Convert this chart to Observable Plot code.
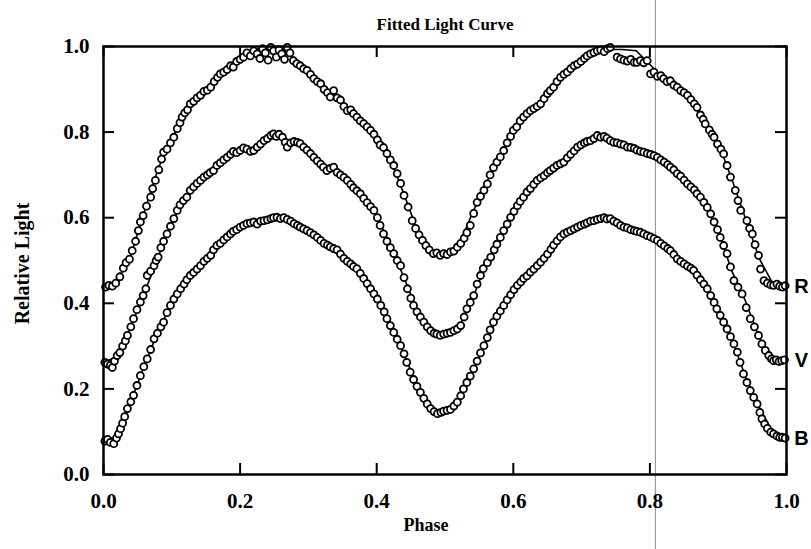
<!DOCTYPE html>
<html><head><meta charset="utf-8">
<script src="https://cdn.jsdelivr.net/npm/d3@7"></script>
<script src="https://cdn.jsdelivr.net/npm/@observablehq/plot@0.6"></script>
<style>body{margin:0;background:#fff} #chart svg{display:block}</style>
</head><body><div id="chart"></div>
<script>
const title = "Fitted Light Curve";
const xLabel = "Phase";
const yLabel = "Relative Light";
const tickValues = [0, 0.2, 0.4, 0.6, 0.8, 1.0];
const bands = ["R", "V", "B"];
const scanLineX = [0.808];

// fitted curves [phase, relative light]
const fitR = [[0,0.440],[0.02,0.452],[0.04,0.512],[0.06,0.615],[0.08,0.715],[0.10,0.785],[0.12,0.845],[0.14,0.884],[0.16,0.913],[0.18,0.945],[0.20,0.972],[0.22,0.992],[0.24,0.999],[0.26,0.997],[0.28,0.972],[0.30,0.942],[0.32,0.910],[0.34,0.882],[0.36,0.853],[0.38,0.822],[0.40,0.785],[0.42,0.735],[0.44,0.655],[0.46,0.568],[0.48,0.522],[0.50,0.514],[0.52,0.535],[0.54,0.610],[0.56,0.680],[0.58,0.740],[0.60,0.800],[0.62,0.843],[0.64,0.868],[0.66,0.905],[0.68,0.944],[0.70,0.968],[0.72,0.985],[0.74,0.993],[0.76,0.993],[0.78,0.990],[0.80,0.958],[0.82,0.925],[0.84,0.905],[0.86,0.876],[0.88,0.825],[0.90,0.775],[0.92,0.690],[0.94,0.598],[0.96,0.505],[0.98,0.446],[1.00,0.440]];
const fitV = [[0,0.262],[0.02,0.275],[0.04,0.345],[0.06,0.425],[0.08,0.508],[0.10,0.590],[0.12,0.645],[0.14,0.685],[0.16,0.710],[0.18,0.740],[0.20,0.757],[0.22,0.765],[0.24,0.788],[0.26,0.790],[0.28,0.775],[0.30,0.755],[0.32,0.724],[0.34,0.712],[0.36,0.683],[0.38,0.650],[0.40,0.605],[0.42,0.535],[0.44,0.460],[0.46,0.380],[0.48,0.334],[0.50,0.327],[0.52,0.343],[0.54,0.410],[0.56,0.490],[0.58,0.550],[0.60,0.612],[0.62,0.660],[0.64,0.693],[0.66,0.718],[0.68,0.740],[0.70,0.770],[0.72,0.785],[0.74,0.784],[0.76,0.770],[0.78,0.760],[0.80,0.748],[0.82,0.730],[0.84,0.703],[0.86,0.672],[0.88,0.632],[0.90,0.570],[0.92,0.475],[0.94,0.405],[0.96,0.320],[0.98,0.270],[1.00,0.265]];
const fitB = [[0,0.080],[0.02,0.088],[0.04,0.170],[0.06,0.255],[0.08,0.335],[0.10,0.400],[0.12,0.450],[0.14,0.485],[0.16,0.525],[0.18,0.555],[0.20,0.578],[0.22,0.590],[0.24,0.597],[0.26,0.600],[0.28,0.588],[0.30,0.568],[0.32,0.546],[0.34,0.525],[0.36,0.495],[0.38,0.458],[0.40,0.410],[0.42,0.348],[0.44,0.280],[0.46,0.205],[0.48,0.155],[0.50,0.146],[0.52,0.172],[0.54,0.238],[0.56,0.310],[0.58,0.378],[0.60,0.428],[0.62,0.465],[0.64,0.496],[0.66,0.535],[0.68,0.565],[0.70,0.583],[0.72,0.594],[0.74,0.598],[0.76,0.582],[0.78,0.569],[0.80,0.556],[0.82,0.535],[0.84,0.505],[0.86,0.482],[0.88,0.440],[0.90,0.382],[0.92,0.318],[0.94,0.228],[0.96,0.158],[0.98,0.098],[1.00,0.085]];

// observations [phase, relative light]
const obsR = [[0.003,0.438],[0.008,0.442],[0.013,0.440],[0.018,0.447],[0.024,0.462],[0.029,0.482],[0.033,0.495],[0.038,0.503],[0.042,0.523],[0.047,0.545],[0.051,0.570],[0.054,0.590],[0.058,0.605],[0.063,0.627],[0.069,0.648],[0.072,0.668],[0.076,0.687],[0.081,0.712],[0.085,0.737],[0.088,0.753],[0.093,0.760],[0.098,0.775],[0.103,0.788],[0.108,0.808],[0.112,0.822],[0.115,0.835],[0.119,0.845],[0.123,0.852],[0.127,0.866],[0.132,0.872],[0.137,0.880],[0.142,0.886],[0.147,0.895],[0.152,0.898],[0.157,0.905],[0.162,0.918],[0.167,0.928],[0.171,0.936],[0.176,0.940],[0.181,0.946],[0.186,0.955],[0.190,0.952],[0.195,0.965],[0.200,0.970],[0.205,0.975],[0.210,0.985],[0.215,0.978],[0.220,0.990],[0.225,0.983],[0.229,0.972],[0.233,0.995],[0.237,0.985],[0.241,0.968],[0.245,0.998],[0.249,0.990],[0.253,0.975],[0.257,0.992],[0.261,0.983],[0.265,0.970],[0.269,0.998],[0.273,0.985],[0.278,0.967],[0.283,0.960],[0.288,0.955],[0.293,0.948],[0.298,0.944],[0.303,0.935],[0.308,0.925],[0.313,0.918],[0.318,0.913],[0.323,0.900],[0.328,0.892],[0.332,0.882],[0.337,0.897],[0.342,0.880],[0.347,0.875],[0.352,0.860],[0.357,0.850],[0.362,0.852],[0.366,0.843],[0.371,0.835],[0.376,0.826],[0.381,0.820],[0.386,0.812],[0.391,0.804],[0.396,0.795],[0.401,0.782],[0.405,0.770],[0.410,0.764],[0.415,0.750],[0.420,0.735],[0.425,0.722],[0.430,0.703],[0.435,0.680],[0.440,0.652],[0.446,0.625],[0.452,0.593],[0.457,0.575],[0.462,0.560],[0.467,0.547],[0.472,0.535],[0.477,0.525],[0.483,0.516],[0.488,0.518],[0.493,0.512],[0.498,0.516],[0.503,0.514],[0.508,0.520],[0.513,0.522],[0.518,0.531],[0.523,0.540],[0.528,0.552],[0.532,0.565],[0.537,0.582],[0.542,0.610],[0.547,0.636],[0.552,0.650],[0.557,0.664],[0.562,0.679],[0.566,0.700],[0.571,0.717],[0.576,0.730],[0.581,0.742],[0.586,0.757],[0.591,0.775],[0.596,0.790],[0.600,0.804],[0.605,0.812],[0.610,0.826],[0.615,0.835],[0.620,0.843],[0.625,0.850],[0.630,0.855],[0.635,0.860],[0.640,0.866],[0.645,0.878],[0.650,0.890],[0.654,0.897],[0.659,0.905],[0.664,0.918],[0.669,0.928],[0.674,0.935],[0.679,0.940],[0.684,0.948],[0.689,0.955],[0.694,0.959],[0.699,0.965],[0.704,0.972],[0.708,0.978],[0.713,0.983],[0.718,0.986],[0.723,0.990],[0.728,0.992],[0.733,0.988],[0.738,0.995],[0.742,0.998],[0.752,0.975],[0.757,0.971],[0.762,0.968],[0.767,0.966],[0.772,0.970],[0.777,0.963],[0.781,0.963],[0.786,0.967],[0.791,0.962],[0.796,0.967],[0.801,0.936],[0.806,0.940],[0.811,0.930],[0.816,0.932],[0.820,0.925],[0.825,0.918],[0.830,0.920],[0.835,0.910],[0.840,0.905],[0.845,0.897],[0.850,0.892],[0.855,0.886],[0.860,0.876],[0.865,0.866],[0.869,0.858],[0.874,0.840],[0.878,0.830],[0.881,0.819],[0.887,0.805],[0.891,0.795],[0.894,0.788],[0.899,0.772],[0.904,0.760],[0.908,0.749],[0.913,0.722],[0.918,0.695],[0.925,0.664],[0.929,0.640],[0.933,0.617],[0.942,0.593],[0.946,0.575],[0.950,0.562],[0.954,0.537],[0.959,0.512],[0.962,0.480],[0.967,0.453],[0.972,0.447],[0.977,0.443],[0.981,0.442],[0.986,0.445],[0.990,0.440],[0.994,0.438],[0.998,0.441]];
const obsV = [[0.002,0.262],[0.006,0.258],[0.010,0.255],[0.013,0.250],[0.016,0.265],[0.020,0.278],[0.024,0.285],[0.028,0.300],[0.032,0.312],[0.035,0.325],[0.040,0.345],[0.044,0.364],[0.049,0.385],[0.054,0.403],[0.058,0.418],[0.062,0.434],[0.064,0.465],[0.069,0.475],[0.074,0.488],[0.077,0.500],[0.080,0.508],[0.084,0.530],[0.088,0.545],[0.093,0.562],[0.098,0.580],[0.103,0.598],[0.108,0.617],[0.112,0.630],[0.117,0.640],[0.122,0.648],[0.127,0.664],[0.132,0.672],[0.137,0.680],[0.142,0.687],[0.147,0.695],[0.152,0.700],[0.156,0.705],[0.161,0.710],[0.166,0.722],[0.171,0.728],[0.176,0.735],[0.181,0.741],[0.186,0.748],[0.190,0.755],[0.195,0.752],[0.200,0.757],[0.205,0.763],[0.210,0.760],[0.215,0.755],[0.220,0.757],[0.225,0.765],[0.230,0.772],[0.235,0.780],[0.240,0.785],[0.245,0.792],[0.249,0.796],[0.253,0.790],[0.257,0.795],[0.262,0.788],[0.266,0.776],[0.269,0.765],[0.274,0.775],[0.279,0.778],[0.284,0.776],[0.288,0.773],[0.293,0.765],[0.298,0.758],[0.303,0.750],[0.308,0.741],[0.313,0.733],[0.318,0.725],[0.322,0.718],[0.327,0.710],[0.332,0.715],[0.337,0.718],[0.342,0.706],[0.347,0.700],[0.352,0.694],[0.357,0.687],[0.362,0.678],[0.366,0.670],[0.371,0.663],[0.376,0.656],[0.381,0.645],[0.386,0.635],[0.391,0.626],[0.396,0.617],[0.401,0.600],[0.405,0.582],[0.410,0.562],[0.415,0.545],[0.420,0.530],[0.425,0.516],[0.430,0.500],[0.435,0.488],[0.440,0.460],[0.445,0.434],[0.450,0.412],[0.454,0.395],[0.459,0.380],[0.464,0.368],[0.469,0.356],[0.474,0.345],[0.479,0.336],[0.484,0.330],[0.488,0.328],[0.493,0.325],[0.498,0.328],[0.503,0.330],[0.508,0.332],[0.513,0.336],[0.518,0.340],[0.523,0.348],[0.528,0.368],[0.532,0.387],[0.537,0.402],[0.542,0.418],[0.547,0.445],[0.552,0.465],[0.556,0.481],[0.562,0.495],[0.567,0.508],[0.572,0.525],[0.576,0.538],[0.581,0.554],[0.586,0.570],[0.591,0.585],[0.596,0.601],[0.601,0.615],[0.606,0.628],[0.610,0.638],[0.615,0.648],[0.620,0.660],[0.625,0.668],[0.630,0.678],[0.635,0.687],[0.640,0.693],[0.645,0.698],[0.650,0.705],[0.654,0.710],[0.659,0.716],[0.664,0.722],[0.669,0.726],[0.674,0.730],[0.679,0.740],[0.684,0.748],[0.689,0.756],[0.694,0.765],[0.699,0.770],[0.704,0.775],[0.708,0.778],[0.713,0.780],[0.718,0.785],[0.723,0.792],[0.728,0.788],[0.733,0.790],[0.737,0.786],[0.742,0.780],[0.747,0.776],[0.752,0.775],[0.757,0.772],[0.762,0.770],[0.767,0.765],[0.772,0.764],[0.777,0.762],[0.781,0.758],[0.786,0.755],[0.791,0.753],[0.796,0.750],[0.801,0.748],[0.806,0.745],[0.811,0.741],[0.816,0.735],[0.821,0.730],[0.826,0.724],[0.830,0.718],[0.835,0.712],[0.840,0.703],[0.845,0.697],[0.850,0.688],[0.855,0.679],[0.860,0.672],[0.865,0.665],[0.869,0.656],[0.874,0.648],[0.879,0.636],[0.884,0.624],[0.889,0.609],[0.894,0.590],[0.899,0.572],[0.903,0.554],[0.908,0.535],[0.913,0.516],[0.918,0.485],[0.923,0.453],[0.929,0.438],[0.935,0.422],[0.941,0.390],[0.947,0.364],[0.953,0.345],[0.959,0.325],[0.964,0.305],[0.969,0.290],[0.974,0.278],[0.978,0.270],[0.981,0.266],[0.985,0.268],[0.989,0.264],[0.993,0.266],[0.997,0.268]];
const obsB = [[0.002,0.078],[0.006,0.082],[0.010,0.075],[0.015,0.072],[0.019,0.085],[0.022,0.095],[0.025,0.107],[0.028,0.120],[0.031,0.135],[0.035,0.154],[0.040,0.170],[0.044,0.185],[0.049,0.208],[0.054,0.231],[0.059,0.252],[0.064,0.270],[0.069,0.292],[0.074,0.317],[0.079,0.330],[0.084,0.345],[0.088,0.356],[0.093,0.378],[0.098,0.395],[0.103,0.410],[0.108,0.422],[0.113,0.434],[0.118,0.445],[0.122,0.455],[0.127,0.465],[0.132,0.472],[0.137,0.480],[0.142,0.488],[0.147,0.498],[0.152,0.505],[0.157,0.512],[0.161,0.525],[0.166,0.535],[0.171,0.540],[0.176,0.548],[0.181,0.555],[0.186,0.562],[0.190,0.568],[0.195,0.572],[0.200,0.578],[0.205,0.582],[0.210,0.586],[0.215,0.588],[0.220,0.590],[0.225,0.585],[0.230,0.592],[0.235,0.593],[0.240,0.595],[0.245,0.598],[0.249,0.600],[0.254,0.601],[0.259,0.598],[0.264,0.600],[0.269,0.596],[0.274,0.592],[0.279,0.586],[0.284,0.582],[0.288,0.578],[0.293,0.574],[0.298,0.570],[0.303,0.565],[0.308,0.560],[0.313,0.554],[0.318,0.547],[0.323,0.540],[0.328,0.536],[0.332,0.532],[0.337,0.528],[0.342,0.525],[0.347,0.515],[0.352,0.505],[0.357,0.498],[0.362,0.492],[0.366,0.486],[0.371,0.481],[0.376,0.470],[0.381,0.458],[0.386,0.446],[0.391,0.434],[0.396,0.422],[0.401,0.410],[0.406,0.395],[0.411,0.380],[0.415,0.364],[0.420,0.348],[0.425,0.332],[0.430,0.316],[0.435,0.301],[0.440,0.282],[0.444,0.262],[0.449,0.239],[0.454,0.222],[0.459,0.206],[0.464,0.192],[0.469,0.178],[0.474,0.165],[0.479,0.154],[0.484,0.147],[0.489,0.142],[0.494,0.145],[0.498,0.148],[0.503,0.150],[0.508,0.152],[0.513,0.160],[0.518,0.169],[0.523,0.184],[0.527,0.200],[0.532,0.215],[0.537,0.230],[0.542,0.247],[0.547,0.265],[0.552,0.284],[0.557,0.301],[0.562,0.320],[0.566,0.338],[0.571,0.356],[0.576,0.370],[0.581,0.382],[0.586,0.395],[0.591,0.408],[0.596,0.420],[0.601,0.432],[0.606,0.442],[0.611,0.450],[0.615,0.458],[0.620,0.464],[0.625,0.473],[0.630,0.480],[0.635,0.488],[0.640,0.496],[0.645,0.505],[0.650,0.515],[0.655,0.526],[0.659,0.536],[0.664,0.546],[0.669,0.555],[0.674,0.562],[0.679,0.566],[0.684,0.570],[0.689,0.574],[0.694,0.578],[0.699,0.582],[0.704,0.585],[0.708,0.588],[0.713,0.592],[0.718,0.593],[0.723,0.596],[0.728,0.598],[0.733,0.600],[0.737,0.597],[0.742,0.598],[0.747,0.592],[0.752,0.588],[0.757,0.582],[0.762,0.578],[0.767,0.576],[0.772,0.572],[0.777,0.570],[0.781,0.568],[0.786,0.566],[0.791,0.562],[0.796,0.558],[0.801,0.555],[0.806,0.551],[0.811,0.547],[0.816,0.540],[0.821,0.534],[0.826,0.528],[0.830,0.523],[0.835,0.514],[0.840,0.504],[0.845,0.498],[0.850,0.492],[0.855,0.487],[0.860,0.482],[0.864,0.477],[0.869,0.466],[0.874,0.455],[0.879,0.445],[0.884,0.434],[0.889,0.418],[0.894,0.402],[0.898,0.387],[0.903,0.372],[0.908,0.356],[0.913,0.340],[0.918,0.322],[0.923,0.305],[0.928,0.286],[0.932,0.262],[0.937,0.235],[0.942,0.215],[0.947,0.196],[0.952,0.180],[0.957,0.165],[0.961,0.145],[0.964,0.130],[0.968,0.118],[0.972,0.108],[0.977,0.099],[0.981,0.095],[0.986,0.090],[0.990,0.087],[0.994,0.087],[0.998,0.085]];

const fitByBand = {R: fitR, V: fitV, B: fitB};
const obsByBand = {R: obsR, V: obsV, B: obsB};
const fits = bands.flatMap(b => fitByBand[b].map(([phase, value]) => ({band: b, phase, value})));
const obs = bands.flatMap(b => obsByBand[b].map(([phase, value]) => ({band: b, phase, value})));
const ends = bands.map(b => { const a = fitByBand[b]; const [phase, value] = a[a.length - 1]; return {band: b, phase, value}; });

const serif = "'Liberation Serif', 'Times New Roman', serif";
const fmt = d => d.toFixed(1);
const W = 811, H = 549, ML = 103, MR = 25, MT = 46, MB = 75;
const tickLen = 11;
const frameW = W - ML - MR, frameH = H - MT - MB;

const chart = Plot.plot({
  width: W,
  height: H,
  marginLeft: ML,
  marginRight: MR,
  marginTop: MT,
  marginBottom: MB,
  style: {fontFamily: serif, fontWeight: "bold", fontSize: "21px", color: "black", background: "white", overflow: "visible"},
  x: {domain: [0, 1]},
  y: {domain: [0, 1]},
  marks: [
    Plot.ruleX(scanLineX, {x: d => d, y1: -0.2, y2: 1.3, stroke: "#8a8a8a", strokeWidth: 1}),
    Plot.line(fits, {x: "phase", y: "value", z: "band", stroke: "black", strokeWidth: 1.6, clip: true}),
    Plot.dot(obs, {x: "phase", y: "value", r: 3.5, stroke: "black", strokeWidth: 1.8, fill: "white"}),
    Plot.frame({stroke: "black", strokeWidth: 2.5}),
    // inward ticks on all four sides
    Plot.tickX(tickValues, {x: d => d, insetTop: frameH - tickLen, stroke: "black", strokeWidth: 2}),
    Plot.tickX(tickValues, {x: d => d, insetBottom: frameH - tickLen, stroke: "black", strokeWidth: 2}),
    Plot.tickY(tickValues, {y: d => d, insetRight: frameW - tickLen, stroke: "black", strokeWidth: 2}),
    Plot.tickY(tickValues, {y: d => d, insetLeft: frameW - tickLen, stroke: "black", strokeWidth: 2}),
    Plot.axisX(tickValues, {anchor: "bottom", tickSize: 0, tickPadding: 19, tickFormat: fmt, fontSize: 21, fontWeight: "bold", label: null}),
    Plot.axisY(tickValues, {anchor: "left", tickSize: 0, tickPadding: 14, tickFormat: fmt, fontSize: 21, fontWeight: "bold", label: null}),
    Plot.text([title], {frameAnchor: "top", dy: -29, fontSize: 17, fontWeight: "bold", fontFamily: serif}),
    Plot.text([yLabel], {frameAnchor: "left", textAnchor: "middle", dx: -81, dy: 3, rotate: -90, fontSize: 20, fontWeight: "bold", fontFamily: serif}),
    Plot.text([xLabel], {frameAnchor: "bottom", dx: -19, dy: 56, fontSize: 18, fontWeight: "bold", fontFamily: serif}),
    Plot.text(ends, {x: "phase", y: "value", text: "band", dx: 15, fontSize: 20, fontWeight: "bold", fontFamily: "'Liberation Sans', Arial, sans-serif"})
  ]
});
document.getElementById("chart").append(chart);
</script>
</body></html>
